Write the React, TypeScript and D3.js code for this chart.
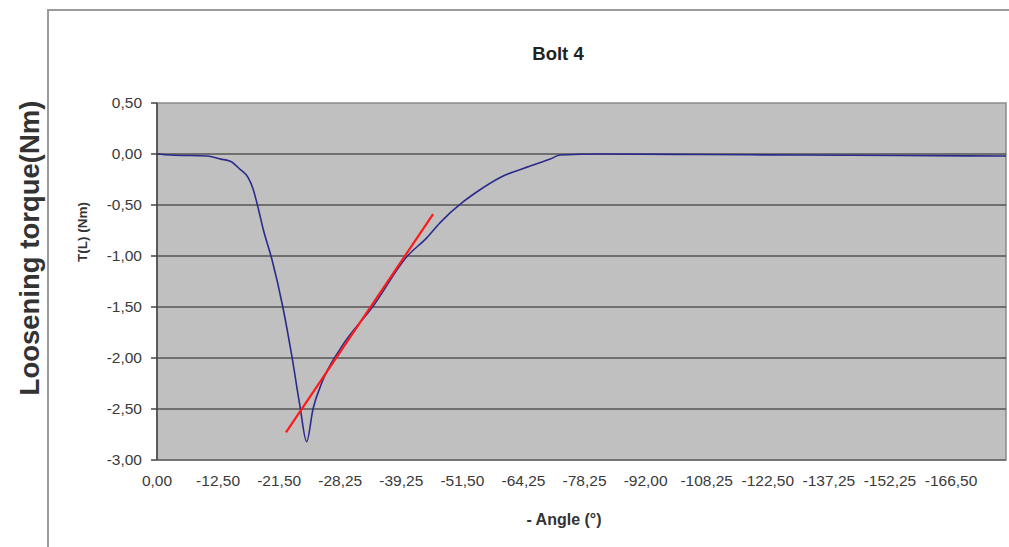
import React from "react";
import * as d3 from "d3";

const tickLabels = ["0,00", "-12,50", "-21,50", "-28,25", "-39,25", "-51,50", "-64,25", "-78,25", "-92,00", "-108,25", "-122,50", "-137,25", "-152,25", "-166,50"];
const labelStep = 50;
const categoryCount = 696;

const yTicks = [0.5, 0, -0.5, -1, -1.5, -2, -2.5, -3];

// torque curve: [category index, T(L) Nm]
const curveIdx = [0, 11, 41, 52, 60, 68, 74.5, 78.6, 82, 87, 94, 103, 110.5, 117, 122.5, 127.7, 135, 150, 177, 205, 221, 232, 250.5, 262, 281, 305, 322, 330, 363, 445, 526, 608, 695];
const curveVal = [0, -0.01, -0.02, -0.05, -0.07, -0.15, -0.23, -0.34, -0.49, -0.74, -1.03, -1.5, -1.99, -2.47, -2.82, -2.5, -2.24, -1.91, -1.49, -1.0, -0.82, -0.67, -0.47, -0.37, -0.23, -0.12, -0.05, -0.01, 0, -0.005, -0.01, -0.015, -0.02];

// tangent line
const fitIdx = [105.6, 226];
const fitVal = [-2.73, -0.59];

const W = 1009;
const H = 547;
const L = 157, R = 1006, T = 103, B = 460;

export default function App() {
  const x = d3.scaleLinear().domain([0, categoryCount - 1]).range([L, R]);
  const y = d3.scaleLinear().domain([-3, 0.5]).range([B, T]);
  const line = d3
    .line<number>()
    .x((_, i) => x(curveIdx[i]))
    .y((d) => y(d))
    .curve(d3.curveMonotoneX);
  const fit = d3
    .line<number>()
    .x((_, i) => x(fitIdx[i]))
    .y((d) => y(d));
  const font = "Arial, 'Liberation Sans', sans-serif";
  return (
    <div style={{ position: "fixed", left: 0, top: 0 }}>
      <svg width={W} height={H} style={{ display: "block", background: "#fff" }} fontFamily={font}>
        {/* outer frame */}
        <path d={`M48,${H} L48,10 L${W},10`} fill="none" stroke="#9a9a9a" strokeWidth={2} />
        {/* plot area */}
        <rect x={L} y={T} width={R - L} height={B - T} fill="#c0c0c0" stroke="#8a8a8a" strokeWidth={1.5} />
        {yTicks.filter((v) => v < 0.5 && v > -3).map((v) => (
          <line key={v} x1={L} x2={R} y1={y(v)} y2={y(v)} stroke="#555" strokeWidth={1.6} />
        ))}
        {/* axes */}
        <line x1={L} x2={L} y1={T} y2={B} stroke="#444" strokeWidth={1.5} />
        <line x1={L} x2={R} y1={B} y2={B} stroke="#666" strokeWidth={1.5} />
        {yTicks.map((v) => (
          <g key={v}>
            <line x1={L - 6} x2={L} y1={y(v)} y2={y(v)} stroke="#444" strokeWidth={1.5} />
            <text x={142} y={y(v)} dy="0.35em" textAnchor="end" fontSize={15.5} fill="#3a3a3a">
              {v.toFixed(2).replace(".", ",")}
            </text>
          </g>
        ))}
        {tickLabels.map((t, i) => (
          <text key={t} x={x(i * labelStep)} y={486} textAnchor="middle" fontSize={15.5} fill="#3a3a3a">
            {t}
          </text>
        ))}
        {/* series */}
        <path d={line(curveVal) || ""} fill="none" stroke="#2b2b8c" strokeWidth={1.6} />
        <path d={fit(fitVal) || ""} fill="none" stroke="#ff1a1a" strokeWidth={2.2} />
        {/* titles */}
        <text x={558} y={60} textAnchor="middle" fontSize={18.5} fontWeight="bold" fill="#222">
          Bolt 4
        </text>
        <text x={564} y={525} textAnchor="middle" fontSize={16} fontWeight="bold" fill="#333">
          - Angle (°)
        </text>
        <text transform={`translate(87,232) rotate(-90)`} textAnchor="middle" fontSize={13.5} fontWeight="bold" fill="#333">
          T(L) (Nm)
        </text>
        <text transform={`translate(39,248) rotate(-90)`} textAnchor="middle" fontSize={27.5} fontWeight="bold" fill="#333">
          Loosening torque(Nm)
        </text>
      </svg>
    </div>
  );
}
